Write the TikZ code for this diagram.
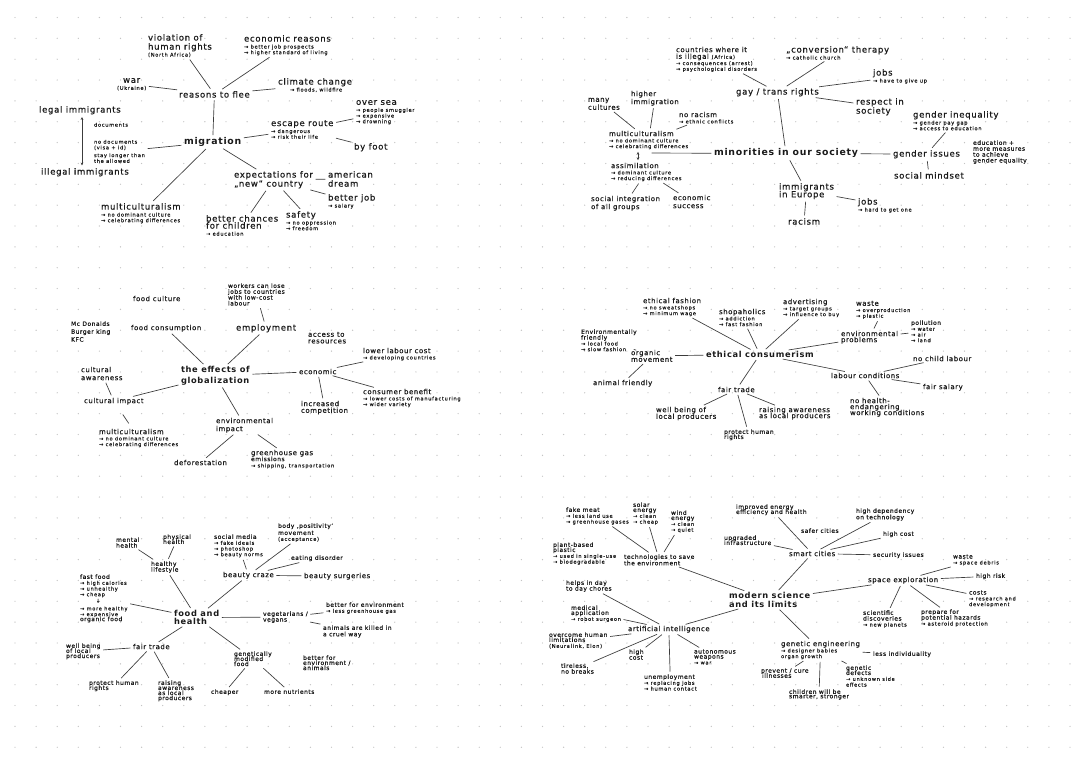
\documentclass[tikz,border=0pt]{standalone}
\usepackage{fontspec}
\usetikzlibrary{arrows.meta}
\newfontfamily\handA[LetterSpace=8,UprightFeatures={FakeBold=0.5}]{DejaVu Sans}
\newfontfamily\handB[LetterSpace=14,UprightFeatures={FakeBold=0.3}]{DejaVu Sans}
\definecolor{ink}{HTML}{1A1A1A}
\definecolor{dotc}{HTML}{C4C4C4}
\newcommand\fL{\handA\fontsize{6.4}{6.8}\selectfont}
\newcommand\fl{\handA\fontsize{5.2}{6.0}\selectfont}
\newcommand\fM{\handA\fontsize{4.5}{5.3}\selectfont}
\newcommand\fS{\handB\fontsize{3.8}{4.3}\selectfont}
\newcommand\fB{\handA\bfseries\fontsize{7}{8.2}\selectfont}
\newcommand\fb{\handA\bfseries\fontsize{6.2}{7.6}\selectfont}
\newcommand\Ltt{\\[-1.6pt]\fS}
\newcommand\Lss{\\[-2.5pt]\fS}
\newcommand\ltt{\\[-1.3pt]\fS}
\newcommand\lss{\\[-1.7pt]\fS}
\newcommand\Mtt{\\[-0.9pt]\fS}
\newcommand\Mss{\\[-1.0pt]\fS}
\tikzset{
  nn/.style={anchor=north west, align=left, inner sep=0.6pt, text=ink},
  L/.style={nn, font=\fL, yshift=3.74pt},
  l/.style={nn, font=\fl, yshift=3.15pt},
  M/.style={nn, font=\fM, yshift=2.8pt},
  S/.style={nn, font=\fS, yshift=2.46pt},
  B/.style={nn, font=\fB, yshift=4.03pt},
  b/.style={nn, font=\fb, yshift=3.6pt},
  ln/.style={draw=ink!85, line width=0.5pt, shorten >=1.2pt, shorten <=1.2pt},
  dar/.style={ln, {Stealth[length=2.2pt,width=2pt]}-{Stealth[length=2.2pt,width=2pt]}}
}
\begin{document}
\begin{tikzpicture}[x=0.75pt,y=-0.75pt]
\useasboundingbox (0,0) rectangle (1080,764);
\fill[white] (0,0) rectangle (1080,764);
\foreach \i in {0,...,50}{\foreach \j in {0,...,35}{\fill[dotc] (15+21.1*\i,17.5+20.85*\j) circle[radius=0.5pt];}}

% ---------- panel 1: migration ----------
\node[L] (viol) at (147,38) {violation of\\human rights\Ltt (North Africa)};
\node[L] (econ) at (243,39) {economic reasons\Ltt → better job prospects\Lss → higher standard of living};
\node[L,align=center] (war) at (116,82) {war\Ltt (Ukraine)};
\node[L] (reasons) at (178,95) {reasons to flee};
\node[L] (climate) at (277,82) {climate change\Ltt\hspace{9pt}→ floods, wildfire};
\node[L] (legal) at (38,110) {legal immigrants};
\node[S] (docs) at (93,125) {documents};
\node[S] (nodoc) at (93,142) {no documents\\(visa + id)\\[1.5pt]stay longer than\\the allowed};
\node[B] (mig) at (183,142) {migration};
\node[L] (illegal) at (40,172) {illegal immigrants};
\node[L] (multi1) at (100,207) {multiculturalism\Ltt → no dominant culture\Lss → celebrating differences};
\node[L] (escape) at (270,124) {escape route\Ltt → dangerous\Lss → risk their life};
\node[L] (oversea) at (355,104) {over sea\Ltt → people smuggler\Lss → expensive\Lss → drowning};
\node[L] (byfoot) at (353,147) {by foot};
\node[L] (expect) at (233,175) {expectations for\\„new“ country};
\node[L] (amer) at (327,175) {american\\dream};
\node[L] (bjob) at (327,198) {better job\Ltt → salary};
\node[L] (safety) at (285,215) {safety\Ltt → no oppression\Lss → freedom};
\node[L] (chances) at (205,219) {better chances\\[-1.5pt]for children\Ltt → education};

\foreach \a/\b in {viol/reasons, war/reasons, econ/reasons, climate/reasons, reasons/mig, nodoc/mig,
  mig/multi1, mig/escape, escape/oversea, escape/byfoot, mig/expect, expect/amer, expect/bjob,
  expect/safety, expect/chances}
  \draw[ln] (\a) -- (\b);
\path (legal.south -| docs.west) ++(-11,0) coordinate (la) (illegal.north -| la) coordinate (lb);
\draw[dar] (la) -- (lb);

% ---------- panel 2: minorities ----------
\node[l] (countries) at (675,50) {countries where it\\[-1pt]is illegal {\fS (Africa)}\ltt → consequences (arrest)\lss → psychological disorders};
\node[L] (conv) at (785,50) {„conversion“ therapy\Ltt → catholic church};
\node[L] (gay) at (735,92) {gay / trans rights};
\node[L] (jobs1) at (872,73) {jobs\Ltt → have to give up};
\node[L] (respect) at (855,102) {respect in\\society};
\node[L] (geneq) at (912,115) {gender inequality\Ltt → gender pay gap\Lss → access to education};
\node[M] (edu) at (972,143) {education +\\[-0.9pt]more measures\\[-0.9pt]to achieve\\[-0.9pt]gender equality};
\node[B] (minor) at (713,153) {minorities in our society};
\node[L] (gissues) at (892,154) {gender issues};
\node[L] (mindset) at (893,176) {social mindset};
\node[L] (immig) at (778,187) {immigrants\\[-1pt]in Europe};
\node[L] (jobs2) at (857,202) {jobs\Ltt → hard to get one};
\node[L] (racism) at (787,222) {racism};
\node[l] (many) at (587,101) {many\\cultures};
\node[l] (higher) at (630,94) {higher\\immigration};
\node[l] (norac) at (678,115) {no racism\ltt → ethnic conflicts};
\node[l] (multi2) at (608,134) {multiculturalism\ltt → no dominant culture\lss → celebrating differences};
\node[l] (assim) at (610,166) {assimilation\ltt → dominant culture\lss → reducing differences};
\node[l] (socint) at (590,199) {social integration\\of all groups};
\node[l] (ecsucc) at (672,198) {economic\\success};
\coordinate (mpair) at (650,153);

\foreach \a/\b in {countries/gay, conv/gay, gay/jobs1, gay/respect, gay/minor, minor/gissues,
  gissues/geneq, gissues/mindset, minor/immig, immig/jobs2, immig/racism, many/multi2,
  higher/multi2, norac/multi2, assim/socint, assim/ecsucc}
  \draw[ln] (\a) -- (\b);
\draw[ln] (minor.west) -- (mpair);
\draw[dar] (multi2.south -| 638,0) -- (assim.north -| 638,0);

% ---------- panel 3: globalization ----------
\node[l] (fculture) at (132,299) {food culture};
\node[M] (workers) at (227,286) {workers can lose\\[-0.9pt]jobs to countries\\[-0.9pt]with low-cost\\[-0.9pt]labour};
\node[L] (employ) at (235,328) {employment};
\node[M] (mcd) at (70,324) {Mc Donalds\\[0.6pt]Burger king\\[0.6pt]KFC};
\node[l] (fcons) at (130,328) {food consumption};
\node[b] (effects) at (180,370) {the effects of\\[0.5pt]globalization};
\node[l] (access) at (307,335) {access to\\[-1pt]resources};
\node[l] (econ3) at (298,372) {economic};
\node[l] (lowlab) at (362,351) {lower labour cost\ltt → developing countries};
\node[l] (consben) at (362,392) {consumer benefit\ltt → lower costs of manufacturing\lss → wider variety};
\node[l] (incr) at (300,404) {increased\\[-1pt]competition};
\node[l] (cultaw) at (80,370) {cultural\\awareness};
\node[l] (cultimp) at (83,401) {cultural impact};
\node[l] (multi3) at (98,432) {multiculturalism\ltt → no dominant culture\lss → celebrating differences};
\node[l] (envimp) at (215,421) {environmental\\impact};
\node[l] (defor) at (173,463) {deforestation};
\node[l] (greenh) at (250,453) {greenhouse gas\\[-1.5pt]{\fM emissions}\ltt → shipping, transportation};

\foreach \a/\b in {workers/employ, fcons/effects, employ/effects, effects/econ3, econ3/lowlab,
  econ3/consben, econ3/incr, cultaw/cultimp, effects/cultimp, effects/envimp, envimp/defor,
  envimp/greenh}
  \draw[ln] (\a) -- (\b);
\draw[ln, shorten <=8pt, shorten >=4pt] (cultimp) -- (multi3);

% ---------- panel 4: ethical consumerism ----------
\node[l] (ethfash) at (642,301) {ethical fashion\ltt → no sweatshops\lss → minimum wage};
\node[l] (shop) at (718,312) {shopaholics\ltt → addiction\lss → fast fashion};
\node[l] (advert) at (782,302) {advertising\ltt → target groups\lss → influence to buy};
\node[b] (ethcons) at (705,355) {ethical consumerism};
\node[l] (waste4) at (855,304) {waste\ltt → overproduction\lss → plastic};
\node[l] (envprob) at (840,334) {environmental\\[-1.5pt]problems};
\node[M] (pollu) at (910,323) {pollution\Mtt → water\Mss → air\Mss → land};
\node[M] (envfr) at (580,332) {Environmentally\\[-1pt]friendly\Mtt → local food\Mss → slow fashion};
\node[l] (organic) at (630,353) {organic\\[-1pt]movement};
\node[l] (animal) at (592,383) {animal friendly};
\node[l] (fair4) at (717,390) {fair trade};
\node[l] (wellb4) at (655,410) {well being of\\[-1pt]local producers};
\node[M] (protect4) at (723,432) {protect human\\[-1.5pt]rights};
\node[l] (raise4) at (758,410) {raising awareness\\[-1.5pt]as local producers};
\node[l] (labour) at (830,376) {labour conditions};
\node[l] (nochild) at (912,359) {no child labour};
\node[l] (fsal) at (922,387) {fair salary};
\node[l] (nohealth) at (849,401) {no health-\\[-1.5pt]endangering\\[-1.5pt]working conditions};

\foreach \a/\b in {ethfash/ethcons, shop/ethcons, advert/ethcons, ethcons/envprob, waste4/envprob,
  envprob/pollu, envfr/organic, organic/ethcons, organic/animal, ethcons/fair4, fair4/wellb4,
  fair4/protect4, fair4/raise4, ethcons/labour, labour/nochild, labour/fsal, labour/nohealth}
  \draw[ln] (\a) -- (\b);

% ---------- panel 5: food and health ----------
\node[M] (mental) at (115,540) {mental\\[-1pt]health};
\node[M] (phys) at (162,537) {physical\\[-1.5pt]health};
\node[M] (healthy) at (150,564) {healthy\\[-1pt]lifestyle};
\node[M] (social) at (213,537) {social media\Mtt → fake ideals\Mss → photoshop\Mss → beauty norms};
\node[M] (body) at (277,526) {body ‚positivity‘\\movement\Mtt (acceptance)};
\node[M] (eating) at (290,558) {eating disorder};
\node[l] (beauty) at (222,575) {beauty craze};
\node[l] (bsurg) at (303,576) {beauty surgeries};
\node[M] (fastfood) at (79,577) {fast food\Mtt → high calories\Mss → unhealthy\Mss → cheap\\[-0.5pt]\fS\hspace{12pt}↓\\[0.5pt]\fS → more healthy\Mss → expensive\\[-1.5pt]organic food};
\node[b] (foodh) at (173,614) {food and\\[-1.5pt]health};
\node[M] (veg) at (262,614) {vegetarians /\\[-1pt]vegans};
\node[M] (benv) at (325,605) {better for environment\Mtt → less greenhouse gas};
\node[M] (animals) at (322,628) {animals are killed in\\[-0.5pt]a cruel way};
\node[M] (gm) at (233,654) {genetically\\[-1.5pt]modified\\[-1.5pt]food};
\node[M] (benv2) at (302,658) {better for\\[-1.5pt]environment /\\[-1.5pt]animals};
\node[M] (cheaper) at (210,692) {cheaper};
\node[M] (nutr) at (263,692) {more nutrients};
\node[l] (fair5) at (132,647) {fair trade};
\node[M] (wellb5) at (65,646) {well being\\[-1.5pt]of local\\[-1.5pt]producers};
\node[M] (protect5) at (88,683) {protect human\\[-1.5pt]rights};
\node[M] (raise5) at (157,683) {raising\\[-1.5pt]awareness\\[-1.5pt]as local\\[-1.5pt]producers};

\foreach \a/\b in {mental/healthy, phys/healthy, healthy/foodh, social/beauty, body/beauty,
  eating/beauty, beauty/bsurg, beauty/foodh, fastfood/foodh, foodh/veg, veg/benv, veg/animals,
  foodh/gm, gm/cheaper, gm/nutr, foodh/fair5, fair5/wellb5, fair5/protect5, fair5/raise5}
  \draw[ln] (\a) -- (\b);

% ---------- panel 6: modern science ----------
\node[M] (fake) at (565,510) {fake meat\Mtt → less land use\Mss → greenhouse gases};
\node[M] (solar) at (632,505) {solar\\[-1.5pt]energy\Mtt → clean\Mss → cheap};
\node[M] (wind) at (670,513) {wind\\[-1.5pt]energy\Mtt → clean\Mss → quiet};
\node[M] (plant) at (552,545) {plant-based\\[-1.5pt]plastic\Mtt → used in single-use\Mss → biodegradable};
\node[M] (tech) at (623,557) {technologies to save\\[-0.5pt]the environment};
\node[M] (improved) at (735,507) {improved energy\\[-1.5pt]efficiency and health};
\node[M] (upgraded) at (723,538) {upgraded\\[-1.5pt]infrastructure};
\node[M] (safer) at (800,531) {safer cities};
\node[M] (highdep) at (855,511) {high dependency\\[-0.5pt]on technology};
\node[M] (hcost6) at (882,534) {high cost};
\node[l] (smart) at (788,554) {smart cities};
\node[M] (security) at (872,555) {security issues};
\node[b] (modern) at (728,596) {modern science\\[-1pt]and its limits};
\node[l] (space) at (867,580) {space exploration};
\node[M] (waste6) at (952,557) {waste\Mtt → space debris};
\node[M] (hrisk) at (975,576) {high risk};
\node[M] (costs) at (968,593) {costs\Mtt → research and\Mss development};
\node[M] (scient) at (862,613) {scientific\\[-1pt]discoveries\Mtt → new planets};
\node[M] (prepare) at (920,612) {prepare for\\[-1pt]potential hazards\Mtt → asteroid protection};
\node[l] (genetic) at (780,644) {genetic engineering\ltt → designer babies\lss organ growth};
\node[M] (lessind) at (872,654) {less individuality};
\node[M] (prevent) at (760,671) {prevent / cure\\[-1.5pt]\,illnesses};
\node[M] (children) at (788,692) {children will be\\[-2pt]smarter, stronger};
\node[M] (gdef) at (845,668) {genetic\\[-1.5pt]defects\Mtt → unknown side\Mss effects};
\node[l] (ai) at (627,629) {artificial intelligence};
\node[M] (helps) at (565,583) {helps in day\\[-1pt]to day chores};
\node[M] (medical) at (570,608) {medical\\[-1.5pt]application\Mtt → robot surgeon};
\node[M] (overcome) at (548,635) {overcome human\\[-1.5pt]limitations\Mtt (Neuralink, Elon)};
\node[M] (tireless) at (560,666) {tireless,\\[-1pt]no breaks};
\node[M] (hcost2) at (628,652) {high\\[-1pt]cost};
\node[M] (unemp) at (643,677) {unemployment\Mtt → replacing jobs\Mss → human contact};
\node[M] (auton) at (693,652) {autonomous\\[-1.5pt]weapons\Mtt → war};

\foreach \a/\b in {fake/tech, solar/tech, wind/tech, tech/modern, improved/smart, upgraded/smart,
  smart/highdep, smart/hcost6, smart/security, smart/modern, modern/space, space/waste6,
  space/hrisk, space/costs, space/scient, space/prepare, modern/genetic, genetic/lessind,
  genetic/prevent, genetic/children, genetic/gdef, modern/ai, helps/ai, medical/ai,
  overcome/ai, tireless/ai, ai/hcost2, ai/unemp, ai/auton}
  \draw[ln] (\a) -- (\b);
\end{tikzpicture}
\end{document}
